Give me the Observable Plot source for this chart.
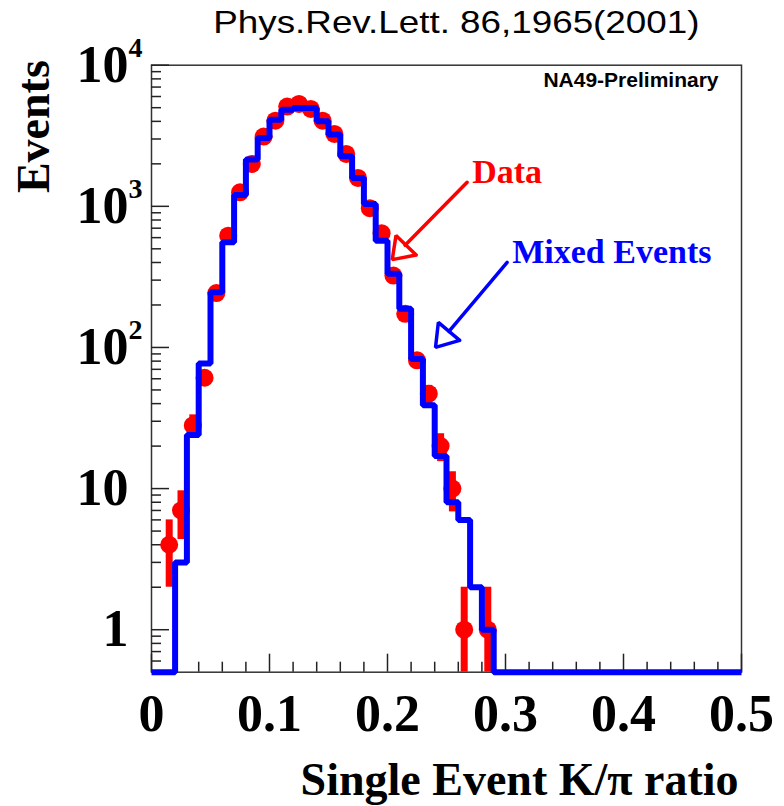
<!DOCTYPE html>
<html><head><meta charset="utf-8">
<script src="https://cdn.jsdelivr.net/npm/d3@7"></script>
<script src="https://cdn.jsdelivr.net/npm/@observablehq/plot@0.6"></script>
<style>
body{margin:0;background:#fff;}
#title{height:45px;width:784px;box-sizing:border-box;padding-left:128px;text-align:center;font-family:"Liberation Sans",Arial,sans-serif;font-size:32px;line-height:45px;color:#000;white-space:nowrap;overflow:visible;}
#title span{display:inline-block;transform:scaleX(1.15);}
</style></head><body>
<div id="title"><span>Phys.Rev.Lett. 86,1965(2001)</span></div>
<div id="chart"></div>
<script>
// histogram bins: width 0.01 starting at 0
const binStart = 0;
const binWidth = 0.01;
// Mixed events (blue step histogram), one value per bin
const mixed = [0,0,3,24,77,246,556,1205,2143,3055,
  4113,4842,4980,4980,4000,3222,2260,1589,1040,571,
  333,188,83,39,17,8,6,2,1,0,
  0,0,0,0,0,0,0,0,0,0,
  0,0,0,0,0,0,0,0,0,0];
// Data (red points), one value per bin
const dataCounts = [0,4,7,28,61,243,620,1256,1995,3119,
  4048,5093,5320,4898,4048,3260,2350,1590,970,645,
  323,173,81,47,20,10,1,0,1,0,
  0,0,0,0,0,0,0,0,0,0,
  0,0,0,0,0,0,0,0,0,0];
const yMin = 0.5, yMax = 10000;
const xMajor = [0,0.1,0.2,0.3,0.4,0.5];
const xLabels = ["0","0.1","0.2","0.3","0.4","0.5"];
const xMinor = [0.02,0.04,0.06,0.08,0.12,0.14,0.16,0.18,0.22,0.24,0.26,0.28,0.32,0.34,0.36,0.38,0.42,0.44,0.46,0.48];
const yMajor = [1,10,100,1000,10000];
const yBase = ["1","10","10","10","10"];
const ySup = ["","","2","3","4"];
const yMinor = [0.6,0.7,0.8,0.9,2,3,4,5,6,7,8,9,20,30,40,50,60,70,80,90,200,300,400,500,600,700,800,900,2000,3000,4000,5000,6000,7000,8000,9000];
// annotations (data coordinates)
const annotText = [
  {x:0.2718, y:1472, text:"Data", color:"red"},
  {x:0.3057, y:399, text:"Mixed Events", color:"blue"}
];
const redShaft = [{x:0.2675,y:1479},{x:0.2149,y:530}];
const redHead = [{x:0.2243,y:452},{x:0.2040,y:419},{x:0.2072,y:621},{x:0.2243,y:452}];
const blueShaft = [{x:0.3014,y:401},{x:0.2521,y:130.1}];
const blueHead = [{x:0.2612,y:112.3},{x:0.2407,y:100.2},{x:0.2431,y:150.6},{x:0.2612,y:112.3}];
// axis title positions (data coordinates, outside the frame)
const yTitle = [{x:-0.0992, y:3672, text:"Events"}];

const stepPts = [];
mixed.forEach((v,i)=>{
  const x0 = binStart + i*binWidth;
  const y = Math.max(v, yMin);
  stepPts.push({x:x0, y}, {x:x0+binWidth, y});
});
const pts = dataCounts.map((n,i)=>({x: binStart+(i+0.5)*binWidth, n})).filter(d=>d.n>0);

const serif = "'Liberation Serif','Times New Roman',serif";
const sans = "'Liberation Sans',Arial,sans-serif";

const chart = Plot.plot({
  width:784, height:761,
  marginLeft:151, marginRight:43, marginTop:19.7, marginBottom:134.3,
  x:{domain:[0,0.5]},
  y:{type:"log", domain:[yMin,yMax]},
  style:{background:"white", overflow:"visible"},
  marks:[
    Plot.frame({stroke:"#333", strokeWidth:1.5}),
    Plot.axisX({ticks:xMajor, tickSize:18, dy:-18, tickFormat:()=>"", label:null, stroke:"#222", strokeWidth:1.5}),
    Plot.axisX({ticks:xMinor, tickSize:10, dy:-10, tickFormat:()=>"", label:null, stroke:"#222", strokeWidth:1.5}),
    Plot.axisY({ticks:yMajor, tickSize:18, dx:18, tickFormat:()=>"", label:null, stroke:"#222", strokeWidth:1.5}),
    Plot.axisY({ticks:yMinor, tickSize:10, dx:10, tickFormat:()=>"", label:null, stroke:"#222", strokeWidth:1.5}),
    Plot.ruleX(pts, {x:"x", y1:d=>Math.max(yMin, d.n-Math.sqrt(d.n)), y2:d=>d.n+Math.sqrt(d.n), stroke:"red", strokeWidth:7}),
    Plot.dot(pts, {x:"x", y:"n", r:9, fill:"red"}),
    Plot.line(stepPts, {x:"x", y:"y", stroke:"blue", strokeWidth:6, strokeLinejoin:"miter", strokeLinecap:"butt"}),
    Plot.line(redShaft, {x:"x", y:"y", stroke:"red", strokeWidth:3.5}),
    Plot.line(redHead, {x:"x", y:"y", stroke:"red", strokeWidth:3.5, strokeLinejoin:"miter"}),
    Plot.line(blueShaft, {x:"x", y:"y", stroke:"blue", strokeWidth:3.5}),
    Plot.line(blueHead, {x:"x", y:"y", stroke:"blue", strokeWidth:3.5, strokeLinejoin:"miter"}),
    Plot.text(annotText, {x:"x", y:"y", text:"text", fill:"color", fontSize:34, fontFamily:serif, fontWeight:"bold", textAnchor:"start", lineAnchor:"bottom"}),
    Plot.text(xMajor, {x:d=>d, frameAnchor:"bottom", lineAnchor:"bottom", dy:59, text:(d,i)=>xLabels[i], fontSize:52, fontFamily:serif, fontWeight:"bold", fill:"black"}),
    Plot.text(yMajor, {y:d=>d, frameAnchor:"left", textAnchor:"end", lineAnchor:"middle", dx:-23, text:(d,i)=>yBase[i], fontSize:52, fontFamily:serif, fontWeight:"bold", fill:"black"}),
    Plot.text(yMajor, {y:d=>d, frameAnchor:"left", textAnchor:"start", lineAnchor:"bottom", dx:-23, dy:-8, text:(d,i)=>ySup[i], fontSize:28, fontFamily:serif, fontWeight:"bold", fill:"black"}),
    Plot.text(yTitle, {x:"x", y:"y", text:"text", rotate:-90, fontSize:46, fontFamily:serif, fontWeight:"bold", fill:"black"}),
    Plot.text(["Single Event K/π ratio"], {frameAnchor:"bottom-right", textAnchor:"end", lineAnchor:"bottom", dx:-3, dy:123, text:d=>d, fontSize:46, fontFamily:serif, fontWeight:"bold", fill:"black"}),
    Plot.text(["NA49-Preliminary"], {frameAnchor:"top-right", textAnchor:"end", lineAnchor:"bottom", dx:-23, dy:22, text:d=>d, fontSize:21, fontFamily:sans, fontWeight:"bold", fill:"black", ariaLabel:"na49"})
  ]
});
document.getElementById("chart").appendChild(chart);
const na = chart.querySelector('g[aria-label="na49"] text');
if (na) { na.setAttribute("textLength","206"); na.setAttribute("lengthAdjust","spacingAndGlyphs"); }
</script>
</body></html>
